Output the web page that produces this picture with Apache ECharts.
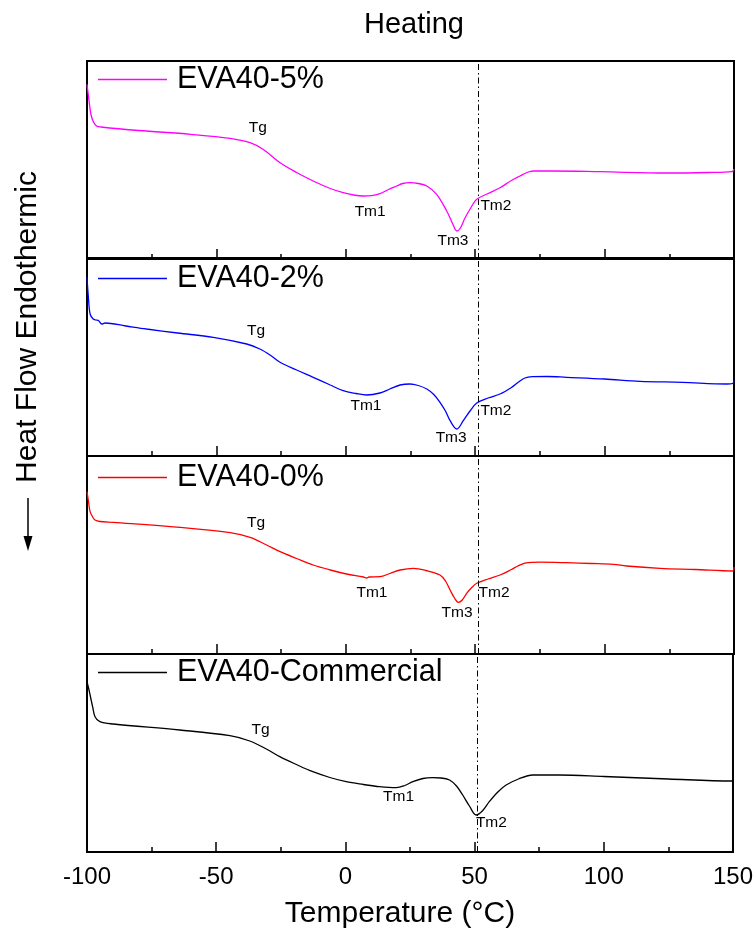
<!DOCTYPE html>
<html>
<head>
<meta charset="utf-8">
<script src="https://cdn.jsdelivr.net/npm/echarts@6/dist/echarts.min.js"></script>
<style>html,body{margin:0;padding:0;background:#fff}#c{width:756px;height:940px}</style>
</head>
<body>
<div id="c"></div>
<script>
// ---- data (heat flow in arbitrary units, offset per panel) ----
const seriesNames = ['EVA40-5%', 'EVA40-2%', 'EVA40-0%', 'EVA40-Commercial'];
const seriesColors = ['#ff00ff', '#0000ff', '#ff0000', '#000000'];
const xTicks = [-100, -50, 0, 50, 100, 150];

const temp5 = [-100,-99.3,-98.5,-97.5,-96.3,-94.6,-80,-60,-44.7,-37,-32,-25.4,-19,-12.6,-6,-1,3,6.8,10,13.2,16.5,19.7,22,24.8,28,31.3,35.1,39,41.5,42.9,44.3,46.1,48.5,50.6,55,59.6,64,67.3,70,72.5,80,98.2,124,140,149.2,150];
const flow5 = [174.7,160,145,137,133,132,128.5,124.7,120.7,116.3,109.7,96.3,86.5,78,70.5,66.3,64,63,63.3,65.3,69.5,73,75.5,76.3,75.5,73,64.7,48,34,28,31,41.3,52,59.7,65.5,71.3,78.5,83,86.5,88,88,87.3,86,86.5,87.3,90];

const temp2 = [-100,-99.5,-98.8,-97.6,-96.5,-95.5,-94.3,-93,-85,-77,-65,-51.2,-38.3,-33.2,-29,-25.4,-19,-12.6,-6,-1,4,8.1,13.2,17,21,24.8,28,31.3,34,36.4,38.5,40.3,42.9,45.4,48,50.6,55,59.6,64,66.5,69.2,72,78,85.3,100,113.7,130,147.2,149.5,150];
const flow2 = [178.7,160,142,137,136,135.3,132,133,130,127,123,118.7,112,107,100.5,93.7,86,78.7,71,65.3,62.5,61,63,67,71,72,70.5,67,61.5,53.7,45,35.3,27,35.3,45,53,58,62,68.5,73.5,78,79.3,79.5,78.7,77,74.7,73.7,72,72.5,76];

const temp0 = [-100,-99.4,-98.8,-97.8,-96.9,-95,-89.8,-64.1,-44.7,-37,-30.6,-25.4,-19,-12.6,-6,0.3,6.8,8,9,13.2,17,21,26.1,31,36.4,38.5,40.3,42,43.5,45,46.7,48.5,50.6,55,59.6,64,66.5,69.2,72,75,85.3,95,103.4,108.5,121.4,135,149.5,150];
const flow0 = [162.3,152,142.3,137,134,132.5,131.7,126.7,121.3,116.7,109,102.3,95.5,89,84,80,77,76,77,77.3,80.5,84,85.7,83.5,79,73,64,56,51.7,54,60.7,66,70.7,75,79,84.5,88,90.8,91.7,91.8,91.3,90.5,89.7,88,85.7,84.5,83,87];

const tempC = [-100,-99.4,-98.8,-97.8,-96.9,-95,-89.8,-64.1,-44.7,-37,-30.6,-25.4,-19,-12.6,-6,0.3,7,13.2,19.7,23,26.1,30,33.8,37,40.3,43,45.4,48,50.6,53,55.7,59,62.2,67,72.5,82.8,100,125,149.7,150];
const flowC = [170.3,164,157,145,135.3,130.3,128,122,116.3,111,103,95.3,87.5,80.3,74.5,70.3,67.5,65.3,64.3,66.5,70.3,73.5,74.3,74,72,66,57,46,37,41,50.3,60,67,73,77,77,75.5,73,71,71];

const refLineTemp = 51;

// annotation labels: [text, temperature, heat flow]
const notes5 = [['Tg',-34,131],['Tm1',9.4,47],['Tm3',41.4,18],['Tm2',58,53]];
const notes2 = [['Tg',-34.7,125],['Tm1',7.8,50],['Tm3',40.7,18],['Tm2',58,45]];
const notes0 = [['Tg',-34.7,131],['Tm1',10.1,61],['Tm3',43,41],['Tm2',57.3,61]];
const notesC = [['Tg',-32.8,122],['Tm1',20.6,55],['Tm2',56.5,29]];

// ---- build ----
const temps = [temp5, temp2, temp0, tempC];
const flows = [flow5, flow2, flow0, flowC];
const notes = [notes5, notes2, notes0, notesC];
const FONT = 'Liberation Sans, Arial, Helvetica, sans-serif';
const gridTops = [61, 258, 456, 654];
const gridH = 198;
const legendCenters = [81, 280, 479, 674];

const grids = [], xAxes = [], yAxes = [], series = [], legends = [];
for (let i = 0; i < 4; i++) {
  grids.push({left: 87, width: 647, top: gridTops[i], height: gridH, show: true, borderColor: '#000', borderWidth: 2, backgroundColor: 'transparent'});
  xAxes.push({
    type: 'value', gridIndex: i, min: xTicks[0], max: xTicks[xTicks.length - 1], interval: 50,
    axisLine: {show: true, onZero: false, lineStyle: {color: '#000', width: 2}},
    axisTick: {show: true, inside: true, length: 10, lineStyle: {color: '#000', width: 1.5}},
    minorTick: {show: true, splitNumber: 2, length: 5, lineStyle: {color: '#000', width: 1.5}},
    splitLine: {show: false},
    axisLabel: {show: i === 3, margin: 13, color: '#000', fontSize: 24, fontFamily: FONT}
  });
  yAxes.push({type: 'value', gridIndex: i, min: 0, max: 198, show: false});
  const data = temps[i].map((t, k) => [t, flows[i][k]]);
  series.push({
    name: seriesNames[i], type: 'line', xAxisIndex: i, yAxisIndex: i,
    data: data, smooth: 0.35, symbol: 'none', showSymbol: false,
    lineStyle: {color: seriesColors[i], width: 1.3}, itemStyle: {color: seriesColors[i]},
    markLine: {
      silent: true, symbol: ['none', 'none'], label: {show: false},
      lineStyle: {color: '#000', type: [6, 3, 1.5, 3], width: 1},
      emphasis: {disabled: true},
      data: [{xAxis: refLineTemp}]
    },
    markPoint: {
      silent: true, symbol: 'circle', symbolSize: 0,
      label: {show: true, position: 'inside', formatter: '{b}', color: '#000', fontSize: 15.5, fontFamily: FONT},
      data: notes[i].map(n => ({name: n[0], coord: [n[1], n[2]]}))
    }
  });
  legends.push({
    data: [{name: seriesNames[i], icon: 'rect'}], left: 98, top: legendCenters[i] - 17, padding: 0,
    itemWidth: 69, itemHeight: 1.4, selectedMode: false,
    itemStyle: {color: seriesColors[i], borderWidth: 0},
    textStyle: {fontSize: 30.5, color: '#000', fontFamily: FONT, padding: [0, 0, 0, 5]}
  });
}

const chart = echarts.init(document.getElementById('c'), null, {renderer: 'canvas'});
chart.setOption({
  animation: false,
  backgroundColor: '#fff',
  title: {text: 'Heating', left: 409, top: 5, textAlign: 'center',
    textStyle: {fontSize: 29, fontWeight: 'normal', color: '#000', fontFamily: FONT}},
  legend: legends,
  grid: grids, xAxis: xAxes, yAxis: yAxes, series: series,
  graphic: [
    {type: 'text', x: 400, y: 914, style: {text: 'Temperature (°C)', fontSize: 30, fontFamily: FONT, fill: '#000', align: 'center', verticalAlign: 'middle'}},
    {type: 'text', x: 28, y: 327, rotation: Math.PI / 2, style: {text: 'Heat Flow Endothermic', fontSize: 30, fontFamily: FONT, fill: '#000', align: 'center', verticalAlign: 'middle'}},
    {type: 'line', shape: {x1: 28, y1: 498, x2: 28, y2: 540}, style: {stroke: '#000', lineWidth: 1.5}},
    {type: 'polygon', shape: {points: [[23.5, 536], [32.5, 536], [28, 551]]}, style: {fill: '#000'}}
  ]
});
</script>
</body>
</html>
